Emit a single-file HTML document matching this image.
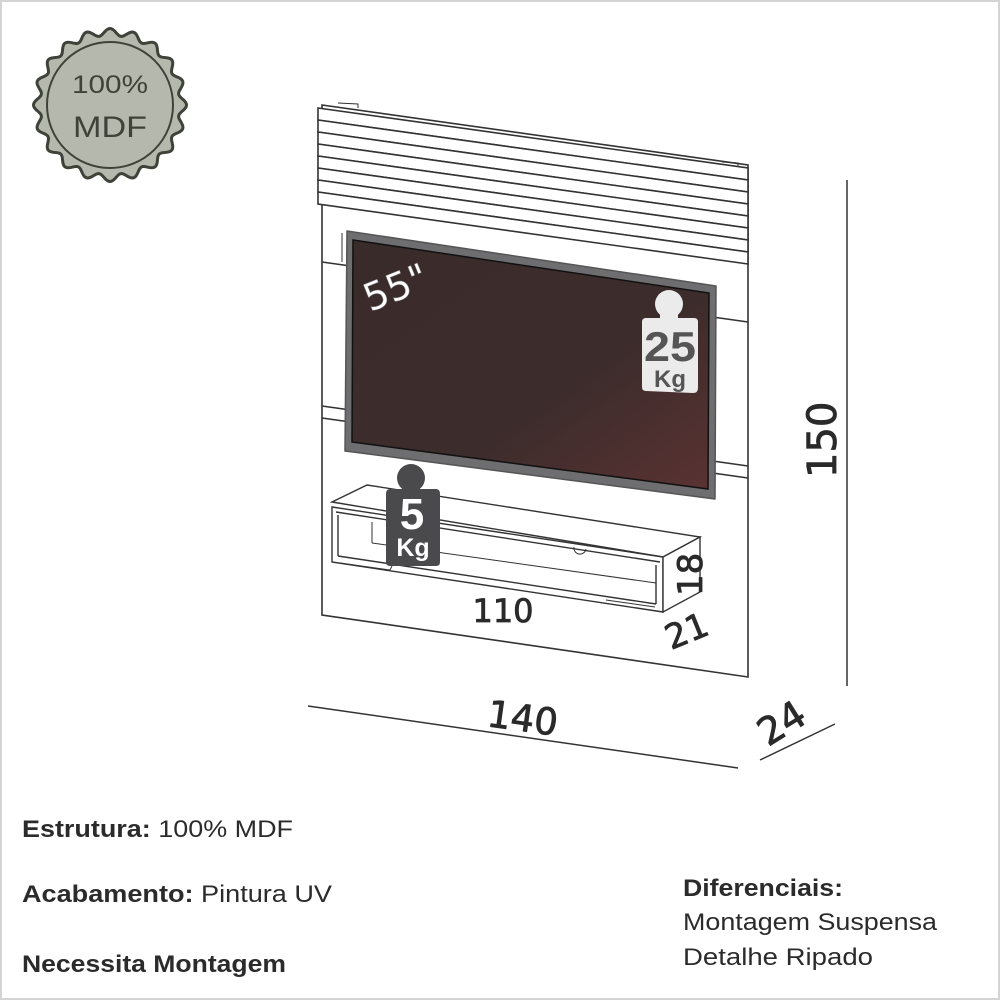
<!DOCTYPE html>
<html><head><meta charset="utf-8"><style>
html,body{margin:0;padding:0;background:#fff}
svg{display:block}
</style></head><body>
<svg width="1000" height="1000" viewBox="0 0 1000 1000" xmlns="http://www.w3.org/2000/svg">
<defs>
<linearGradient id="scr" x1="0" y1="0" x2="1" y2="1">
<stop offset="0" stop-color="#3a2b2b"/><stop offset="0.6" stop-color="#3d2c2c"/><stop offset="1" stop-color="#5a3232"/>
</linearGradient>
</defs>
<rect x="1" y="1" width="998" height="998" fill="#fff" stroke="#d4d4d4" stroke-width="2"/>

<!-- badge -->
<path id="badge" fill="#b5b9ad" stroke="#3f4238" stroke-width="3"/>
<circle cx="110" cy="105" r="63" fill="none" stroke="#3f4238" stroke-width="2"/>
<text x="110" y="93" font-family="Liberation Sans, sans-serif" font-size="25" fill="#3f4238" text-anchor="middle" textLength="76" lengthAdjust="spacingAndGlyphs">100%</text>
<text x="110" y="137" font-family="Liberation Sans, sans-serif" font-size="30" fill="#3f4238" text-anchor="middle" textLength="74" lengthAdjust="spacingAndGlyphs">MDF</text>

<!-- panel -->
<g stroke="#333" stroke-width="1.6" fill="#fff">
<polygon points="322,105 748,165 748,677 322,615"/>
<polygon points="318,108 748,168 748,180 318,120"/>
<polygon points="318,120 748,180 748,192 318,132"/>
<polygon points="318,132 748,192 748,204 318,144"/>
<polygon points="318,144 748,204 748,216 318,156"/>
<polygon points="318,156 748,216 748,228 318,168"/>
<polygon points="318,168 748,228 748,240 318,180"/>
<polygon points="318,180 748,240 748,252 318,192"/>
<polygon points="318,192 748,252 748,264 318,204"/>
<line x1="322" y1="262" x2="748" y2="322"/>
<line x1="322" y1="406" x2="748" y2="466"/>
<line x1="322" y1="418" x2="748" y2="478"/>
<line x1="342" y1="233" x2="342" y2="262" stroke-width="1"/>
<polyline points="338,103 358,104 358,108" fill="none" stroke-width="1"/>
<polyline points="722,162 738,163 738,167" fill="none" stroke-width="1"/>
</g>

<!-- TV -->
<polygon points="347,231 716,286 715,499 345,451" fill="#6e6e70" stroke="#555" stroke-width="1.5" stroke-linejoin="round"/>
<polygon points="353,240 709,293 708,489 352,442" fill="url(#scr)" stroke="#111" stroke-width="1.5"/>
<text transform="translate(370,312) rotate(-22)" font-family="DejaVu Sans, sans-serif" font-size="38" fill="#fff" stroke="#888" stroke-width="0.5">55"</text>

<!-- shelf -->
<g stroke="#333" stroke-width="1.4" fill="#fff">
<polygon points="332,502 367,485 700,537 663,557"/>
<polygon points="332,507 663,557 663,612 332,562"/>
<polygon points="663,557 700,537 700,592 663,612"/>
<line x1="336" y1="512" x2="660" y2="562"/>
<line x1="338" y1="515" x2="338" y2="556"/>
<line x1="338" y1="556" x2="656" y2="604"/>
<line x1="656" y1="565" x2="656" y2="604"/>
<line x1="372" y1="522" x2="372" y2="543" stroke-width="1"/>
<line x1="372" y1="543" x2="656" y2="583" stroke-width="1"/>
<polyline points="340,563 390,570 392,566" fill="none" stroke-width="1"/>
<polyline points="606,600 655,607" fill="none" stroke-width="1"/>
<path d="M574,547 a6,6 0 0 0 12,2" fill="none" stroke-width="1"/>
</g>

<!-- 5kg -->
<circle cx="411" cy="478" r="14" fill="#4a4a4c"/>
<rect x="402" y="482" width="18" height="10" fill="#4a4a4c"/>
<path d="M388,489 L436,489 Q440,489 440,494 L440,562 Q440,566 436,566 L390,566 Q386,566 386,562 L386,494 Q386,489 390,489 Z" fill="#4a4a4c"/>
<text x="412" y="529" font-family="Liberation Sans, sans-serif" font-weight="bold" font-size="44" fill="#fff" text-anchor="middle">5</text>
<text x="413" y="556" font-family="Liberation Sans, sans-serif" font-weight="bold" font-size="25" fill="#fff" text-anchor="middle">Kg</text>

<!-- 25kg -->
<circle cx="669" cy="304" r="14" fill="#ebebeb"/>
<rect x="660" y="308" width="18" height="12" fill="#ebebeb"/>
<path d="M646,318 L694,318 Q698,318 698,322 L698,388 Q698,393 693,393 L646,391 Q642,391 642,387 L642,322 Q642,318 646,318 Z" fill="#ebebeb"/>
<text x="670" y="361" font-family="Liberation Sans, sans-serif" font-weight="bold" font-size="42" fill="#555" text-anchor="middle" textLength="52" lengthAdjust="spacingAndGlyphs">25</text>
<text x="670" y="387" font-family="Liberation Sans, sans-serif" font-weight="bold" font-size="24" fill="#555" text-anchor="middle">Kg</text>

<!-- dimension lines -->
<g stroke="#333" stroke-width="1.5">
<line x1="308" y1="706" x2="738" y2="768"/>
<line x1="760" y1="760" x2="835" y2="724"/>
<line x1="847" y1="180" x2="847" y2="686"/>
</g>
<g font-family="DejaVu Sans, sans-serif" fill="#2a2a2a" stroke="#2a2a2a" stroke-width="0.8">
<text x="503" y="622" font-size="32" text-anchor="middle">110</text>
<text transform="translate(702,596) rotate(-90)" font-size="34">18</text>
<text transform="translate(671,650) rotate(-22)" font-size="34">21</text>
<text transform="translate(486,726) rotate(8)" font-size="37">140</text>
<text transform="translate(768,747) rotate(-32)" font-size="38">24</text>
<text transform="translate(836,478) rotate(-90)" font-size="40">150</text>
</g>

<!-- bottom text -->
<g font-family="Liberation Sans, sans-serif" font-size="24" fill="#2b2b2b">
<text x="22" y="837" textLength="271" lengthAdjust="spacingAndGlyphs"><tspan font-weight="bold">Estrutura:</tspan> 100% MDF</text>
<text x="22" y="902" textLength="310" lengthAdjust="spacingAndGlyphs"><tspan font-weight="bold">Acabamento:</tspan> Pintura UV</text>
<text x="22" y="972" font-weight="bold" textLength="264" lengthAdjust="spacingAndGlyphs">Necessita Montagem</text>
<text x="683" y="896" font-weight="bold" textLength="160" lengthAdjust="spacingAndGlyphs">Diferenciais:</text>
<text x="683" y="930" textLength="254" lengthAdjust="spacingAndGlyphs">Montagem Suspensa</text>
<text x="683" y="965" textLength="190" lengthAdjust="spacingAndGlyphs">Detalhe Ripado</text>
</g>
</svg>
<script>
(function(){var cx=110,cy=105,n=20,R=73,a=3.5,d='';for(var i=0;i<=360;i++){var t=i*Math.PI/180;var r=R+a*Math.cos(n*t);var x=cx+r*Math.cos(t),y=cy+r*Math.sin(t);d+=(i?'L':'M')+x.toFixed(2)+','+y.toFixed(2);}document.getElementById('badge').setAttribute('d',d+'Z');})();
</script>
</body></html>
